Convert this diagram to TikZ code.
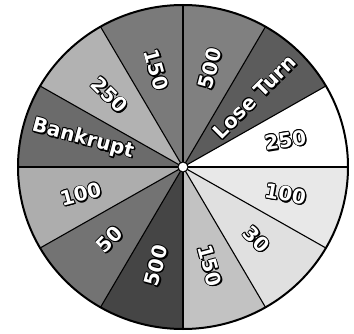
\documentclass[tikz,border=0pt]{standalone}
\usepackage{fontspec}
\setmainfont{DejaVu Sans}
\usetikzlibrary{calc}
\begin{document}
\begin{tikzpicture}[x=1pt,y=1pt,
  lbl/.style={font=\bfseries\fontsize{20}{20}\selectfont, inner sep=0pt},
  spoke/.style={draw=black, line width=1.1pt},
  rim/.style={draw=black, line width=2pt}]
\newcommand\wlabel[5]{%
  \foreach \dx/\dy in {-.75/0,.75/0,0/.75,0/-.75,-.55/.55,.55/.55,-.55/-.55,.55/-.55,1.2/-1.2,.9/-1.5,1.5/-.9}{
    \node[lbl, rotate=#4, text=black] (#1s) at ($(c)+(#2:#3)+(\dx,\dy)$) {#5};
  }
  \node[lbl, rotate=#4, text=white] (#1) at ($(c)+(#2:#3)$) {#5};}
\useasboundingbox (0,0) rectangle (354,333);
\coordinate (c) at (183,166);
\foreach \a/\g in {0/100,30/36,60/50,90/48,120/70,150/42,180/68,210/45,240/27,270/76,300/88,330/91}{
  \fill[black!\the\numexpr100-\g\relax] (c) -- ($(c)+(\a:165 and 162)$)
    arc[start angle=\a, end angle=\a+30, x radius=165, y radius=162] -- cycle;
}
\foreach \a in {0,30,...,330}{
  \coordinate (e\a) at ($(c)+(\a:165 and 162)$);
  \draw[spoke] (c) -- (e\a);
}
\draw[rim] (c) ellipse[x radius=165, y radius=162];
\wlabel{l0}{15}{106 and 104}{9}{250}
\wlabel{l1}{45}{101 and 99}{45}{Lose Turn}
\wlabel{l2}{75}{104 and 102}{75}{500}
\wlabel{l3}{105}{103 and 101}{-75}{150}
\wlabel{l4}{135}{104 and 102}{-45}{250}
\wlabel{l5}{164}{104 and 102}{-15}{Bankrupt}
\wlabel{l6}{195}{106 and 104}{15}{100}
\wlabel{l7}{225}{104 and 102}{45}{50}
\wlabel{l8}{255}{104 and 102}{75}{500}
\wlabel{l9}{285}{104 and 102}{-75}{150}
\wlabel{l10}{315}{104 and 102}{-45}{30}
\wlabel{l11}{345}{106 and 104}{-10}{100}
\node[circle, draw=black, fill=white, line width=1pt, minimum size=10pt, inner sep=0pt] (hub) at (c) {};
\end{tikzpicture}
\end{document}
